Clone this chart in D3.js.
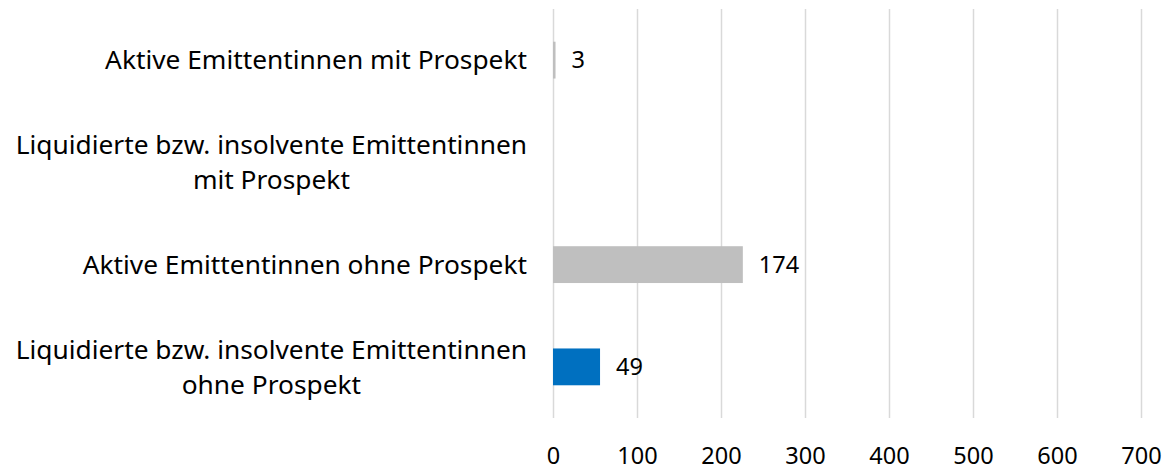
<!DOCTYPE html>
<html>
<head>
<meta charset="utf-8">
<script src="https://cdn.jsdelivr.net/npm/d3@7"></script>
<style>
    body { margin: 0; background: #fff; }
    svg text { font-family: "Noto Sans", "Open Sans", sans-serif; fill: #000; font-variant-ligatures: none; }
</style>
</head>
<body>
<script>
// category labels, one entry per line of the label
var categories = [
    ["Aktive Emittentinnen mit Prospekt"],
    ["Liquidierte bzw. insolvente Emittentinnen", "mit Prospekt"],
    ["Aktive Emittentinnen ohne Prospekt"],
    ["Liquidierte bzw. insolvente Emittentinnen", "ohne Prospekt"]
];
// bar lengths as drawn in the picture (axis units)
var barValues = [3, 0, 226, 56];
// data labels printed next to the bars
var valueLabels = ["3", "", "174", "49"];
var barColors = ["#bfbfbf", "#bfbfbf", "#bfbfbf", "#0070c0"];
var xTicks = [0, 100, 200, 300, 400, 500, 600, 700];

var margin = {top: 9, right: 29, bottom: 52, left: 553},
    width = 1170 - margin.left - margin.right,
    height = 470 - margin.top - margin.bottom;

var catFontSize = 26.3,
    numFontSize = 23.5;

var x = d3.scaleLinear()
        .domain([0, 700])
        .range([0, width]);

var y = d3.scaleBand()
        .domain(d3.range(categories.length))
        .range([0, height]);

var svg = d3.select("body").append("svg")
        .attr("width", width + margin.left + margin.right)
        .attr("height", height + margin.top + margin.bottom)
        .append("g")
        .attr("transform", "translate(" + margin.left + "," + margin.top + ")");

// gridlines
var grid = svg.append("g")
        .attr("class", "grid")
        .attr("transform", "translate(0," + height + ")")
        .call(d3.axisBottom(x).tickValues(xTicks).tickSize(-height).tickFormat(""));
grid.select(".domain").remove();
grid.selectAll("line").attr("stroke", "#d9d9d9").attr("stroke-width", 1.5);

// tick labels
var xAxis = svg.append("g")
        .attr("class", "x axis")
        .attr("transform", "translate(0," + height + ")")
        .call(d3.axisBottom(x).tickValues(xTicks).tickSize(0).tickPadding(29));
xAxis.select(".domain").remove();
xAxis.selectAll("text")
        .attr("font-family", null)
        .style("font-size", numFontSize + "px");

// bars
var barH = y.bandwidth() * 0.36;
svg.selectAll("rect.bar")
        .data(barValues)
        .enter().append("rect")
        .attr("class", "bar")
        .attr("x", x(0))
        .attr("y", function(d, i) { return y(i) + y.bandwidth() / 2 - barH / 2; })
        .attr("width", function(d) { return x(d) - x(0); })
        .attr("height", barH)
        .style("fill", function(d, i) { return barColors[i]; });

// value labels
svg.selectAll("text.value")
        .data(barValues)
        .enter().append("text")
        .attr("class", "value")
        .attr("x", function(d) { return x(d) + 16; })
        .attr("y", function(d, i) { return y(i) + y.bandwidth() / 2; })
        .attr("dy", "0.35em")
        .style("font-size", numFontSize + "px")
        .text(function(d, i) { return valueLabels[i]; });

// category labels: block right aligned, lines centred on each other
var labelRight = -26,
    lineGap = 35;
categories.forEach(function(lines, i) {
    var cy = y(i) + y.bandwidth() / 2;
    var g = svg.append("g").attr("class", "cat");
    var texts = g.selectAll("text")
            .data(lines)
            .enter().append("text")
            .attr("y", function(d, j) { return cy + (j - (lines.length - 1) / 2) * lineGap; })
            .attr("dy", "0.35em")
            .style("font-size", catFontSize + "px")
            .text(function(d) { return d; });
    var maxW = 0;
    texts.each(function() { maxW = Math.max(maxW, this.getComputedTextLength()); });
    texts.attr("x", labelRight - maxW / 2)
            .style("text-anchor", "middle");
});
</script>
</body>
</html>
